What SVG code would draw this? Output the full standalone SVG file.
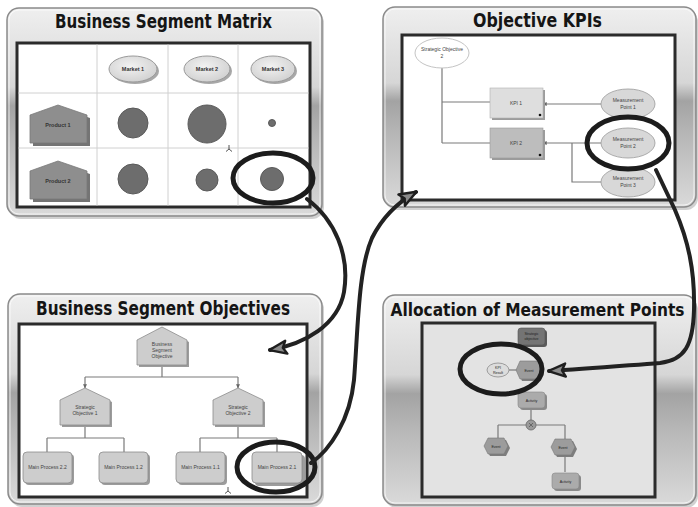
<svg xmlns="http://www.w3.org/2000/svg" width="698" height="507" viewBox="0 0 698 507">
<defs>
<linearGradient id="fg" x1="0" y1="0" x2="0" y2="1">
<stop offset="0" stop-color="#efefef"/>
<stop offset="0.38" stop-color="#d6d6d6"/>
<stop offset="0.47" stop-color="#a3a3a3"/>
<stop offset="0.65" stop-color="#b8b8b8"/>
<stop offset="1" stop-color="#dadada"/>
</linearGradient>
<radialGradient id="eg" cx="0.45" cy="0.4" r="0.6">
<stop offset="0" stop-color="#f2f2f2"/>
<stop offset="1" stop-color="#d2d2d2"/>
</radialGradient>
<marker id="big" viewBox="0 0 20 16" refX="18" refY="8" markerWidth="20" markerHeight="16" markerUnits="userSpaceOnUse" orient="auto">
<path d="M1.5,1.5 L18.5,8 L1.5,14.5 L5,8 Z" fill="#8a8a8a" stroke="#1e1e1e" stroke-width="2.4" stroke-linejoin="round"/>
</marker>
<marker id="sm" viewBox="0 0 6 6" refX="5.5" refY="3" markerWidth="4" markerHeight="4" markerUnits="userSpaceOnUse" orient="auto">
<path d="M0,0 L6,3 L0,6 Z" fill="#666"/>
</marker>
</defs>
<style>
.frame{fill:url(#fg);stroke:#8a8a8a;stroke-width:1.5}
.hl{fill:none;stroke:#ffffff;stroke-opacity:.7;stroke-width:1}
.shadow{fill:#9a9a9a;opacity:.45}
.inner{fill:#ffffff;stroke:#2b2b2b;stroke-width:3}
.title{font-family:"DejaVu Sans Condensed","DejaVu Sans",sans-serif;font-weight:bold;font-size:20px;fill:#151515}
.grid{stroke:#d0d0d0;stroke-width:1;fill:none}
.lbl{font-family:"Liberation Sans",Arial,sans-serif;font-size:5px;fill:#444;text-anchor:middle}
.blbl{font-family:"Liberation Sans",Arial,sans-serif;font-size:5.5px;font-weight:bold;fill:#333;text-anchor:middle}
.ln{stroke:#7a7a7a;stroke-width:1.2;fill:none}
.mag{fill:none;stroke:#1c1c1c;stroke-width:5}
.conn{fill:none;stroke:#222;stroke-width:4;stroke-linecap:round}
.bubble{fill:#6d6d6d;stroke:#5a5a5a;stroke-width:1}
.market{fill:url(#eg);stroke:#9a9a9a;stroke-width:1}
.mshadow{fill:#a8a8a8}
.prod{fill:#8e8e8e;stroke:#7a7a7a;stroke-width:.8}
.prodsh{fill:#747474}
.box{fill:#cdcdcd;stroke:#8c8c8c;stroke-width:.8}
.boxsh{fill:#9c9c9c}
.mp{fill:#d8d8d8;stroke:#999;stroke-width:.8}
</style>

<!-- Panel frames -->
<g id="panel-matrix">
<rect class="shadow" x="9" y="11" width="315" height="208" rx="12"/>
<rect class="frame" x="7" y="8" width="315" height="208" rx="12"/>
<rect class="hl" x="9" y="10" width="311" height="204" rx="10"/>
<text class="title" x="163.5" y="28" text-anchor="middle" textLength="217" lengthAdjust="spacingAndGlyphs">Business Segment Matrix</text>
<rect class="inner" x="17" y="43" width="293" height="164"/>
<path class="grid" d="M97,44.5V205.5M168,44.5V205.5M238,44.5V205.5M18.5,93H308.5M18.5,148H308.5"/>
</g>

<g id="panel-kpis">
<rect class="shadow" x="385" y="10" width="313" height="200" rx="12"/>
<rect class="frame" x="383" y="7" width="313" height="200" rx="12"/>
<rect class="hl" x="385" y="9" width="309" height="196" rx="10"/>
<text class="title" x="537.5" y="27" text-anchor="middle" textLength="129" lengthAdjust="spacingAndGlyphs">Objective KPIs</text>
<rect class="inner" x="402" y="35" width="273" height="165"/>
</g>

<g id="panel-objectives">
<rect class="shadow" x="10" y="297" width="314" height="210" rx="12"/>
<rect class="frame" x="8" y="294" width="314" height="210" rx="12"/>
<rect class="hl" x="10" y="296" width="310" height="206" rx="10"/>
<text class="title" x="163" y="315" text-anchor="middle" textLength="254" lengthAdjust="spacingAndGlyphs">Business Segment Objectives</text>
<rect class="inner" x="19" y="324" width="288" height="173"/>
</g>

<g id="panel-allocation">
<rect class="shadow" x="385" y="298" width="313" height="210" rx="12"/>
<rect class="frame" x="383" y="295" width="313" height="210" rx="12"/>
<rect class="hl" x="385" y="297" width="309" height="206" rx="10"/>
<text class="title" x="537.5" y="316" text-anchor="middle" textLength="294" lengthAdjust="spacingAndGlyphs" style="font-size:17.5px">Allocation of Measurement Points</text>
<rect class="inner" x="422" y="323" width="233" height="174" style="fill:#e3e3e3"/>
</g>

<!-- Matrix nodes -->
<g id="market-1">
<ellipse class="mshadow" cx="135" cy="71" rx="24" ry="13"/>
<ellipse class="market" cx="133" cy="69" rx="24" ry="13"/>
<text class="blbl" x="133" y="71">Market 1</text>
</g>
<g id="market-2">
<ellipse class="mshadow" cx="209" cy="71" rx="23" ry="13"/>
<ellipse class="market" cx="207" cy="69" rx="23" ry="13"/>
<text class="blbl" x="207" y="71">Market 2</text>
</g>
<g id="market-3">
<ellipse class="mshadow" cx="275" cy="71" rx="22" ry="13"/>
<ellipse class="market" cx="273" cy="69" rx="22" ry="13"/>
<text class="blbl" x="273" y="71">Market 3</text>
</g>
<g id="product-1">
<polygon class="prodsh" points="33,118 61,108 90,118 90,146 33,146"/>
<polygon class="prod" points="30,115 58,105 87,115 87,143 30,143"/>
<text class="blbl" x="58" y="127">Product 1</text>
</g>
<g id="product-2">
<polygon class="prodsh" points="33,174 61,164 90,174 90,202 33,202"/>
<polygon class="prod" points="30,171 58,161 87,171 87,199 30,199"/>
<text class="blbl" x="58" y="183">Product 2</text>
</g>
<g id="bubbles">
<circle class="bubble" cx="133" cy="123" r="15"/>
<circle class="bubble" cx="207" cy="124" r="19"/>
<circle class="bubble" cx="272" cy="123" r="3.5"/>
<circle class="bubble" cx="133" cy="179" r="15"/>
<circle class="bubble" cx="207" cy="180" r="11"/>
<circle class="bubble" cx="272" cy="179" r="11.5"/>
<path d="M229,145V149M229,149L226,151.5M229,149L232,151.5" stroke="#555" stroke-width="1" fill="none"/>
</g>

<!-- KPI nodes -->
<g id="kpi-edges">
<path class="ln" d="M442,68V143M442,102H490M442,143H490"/>
<path class="ln" d="M601,104H543" marker-end="url(#sm)"/>
<path class="ln" d="M601,143H543" marker-end="url(#sm)"/>
<path class="ln" d="M572,143V182H601"/>
</g>
<g id="strategic-objective-2-kpi">
<ellipse cx="442" cy="53" rx="27" ry="15" fill="#ffffff" stroke="#c4c4c4" stroke-width="1"/>
<text class="lbl" x="442" y="51">Strategic Objective</text>
<text class="lbl" x="442" y="58">2</text>
</g>
<g id="kpi-1">
<rect class="boxsh" x="492" y="90" width="53" height="30"/>
<rect x="490" y="88" width="53" height="30" fill="#dedede" stroke="#b0b0b0" stroke-width=".6"/>
<text class="lbl" x="516" y="105">KPI 1</text>
<circle cx="540" cy="115" r="1.3" fill="#111"/>
</g>
<g id="kpi-2">
<rect class="boxsh" x="492" y="130" width="53" height="30"/>
<rect x="490" y="128" width="53" height="30" fill="#bdbdbd" stroke="#9a9a9a" stroke-width=".6"/>
<text class="lbl" x="516" y="145">KPI 2</text>
<circle cx="540" cy="155" r="1.3" fill="#111"/>
</g>
<g id="measurement-point-1">
<ellipse class="mp" cx="628" cy="104" rx="27" ry="15"/>
<text class="lbl" x="628" y="102">Measurement</text>
<text class="lbl" x="628" y="109">Point 1</text>
</g>
<g id="measurement-point-2">
<ellipse class="mp" cx="628" cy="143" rx="27" ry="15"/>
<text class="lbl" x="628" y="141">Measurement</text>
<text class="lbl" x="628" y="148">Point 2</text>
</g>
<g id="measurement-point-3">
<ellipse class="mp" cx="628" cy="182" rx="27" ry="15"/>
<text class="lbl" x="628" y="180">Measurement</text>
<text class="lbl" x="628" y="187">Point 3</text>
</g>

<!-- Objectives nodes -->
<g id="objective-edges">
<path class="ln" d="M162,365V377M85,377H238"/>
<path class="ln" d="M85,377V388" marker-end="url(#sm)"/>
<path class="ln" d="M238,377V388" marker-end="url(#sm)"/>
<path class="ln" d="M85,425V438M47,438H124M47,438V452M124,438V452"/>
<path class="ln" d="M238,425V438M200,438H277M200,438V452M277,438V452"/>
</g>
<g id="business-segment-objective">
<polygon class="boxsh" points="139,342 164,329 189,342 189,367 139,367"/>
<polygon class="box" points="137,340 162,327 187,340 187,365 137,365"/>
<text class="lbl" x="162" y="346">Business</text>
<text class="lbl" x="162" y="352">Segment</text>
<text class="lbl" x="162" y="358">Objective</text>
</g>
<g id="strategic-objective-1">
<polygon class="boxsh" points="62,402 87,390 112,402 112,427 62,427"/>
<polygon class="box" points="60,400 85,388 110,400 110,425 60,425"/>
<text class="lbl" x="85" y="409">Strategic</text>
<text class="lbl" x="85" y="415">Objective 1</text>
</g>
<g id="strategic-objective-2">
<polygon class="boxsh" points="215,402 240,390 265,402 265,427 215,427"/>
<polygon class="box" points="213,400 238,388 263,400 263,425 213,425"/>
<text class="lbl" x="238" y="409">Strategic</text>
<text class="lbl" x="238" y="415">Objective 2</text>
</g>
<g id="main-process-2-2">
<rect class="boxsh" x="25" y="454" width="49" height="31" rx="4"/>
<rect class="box" x="23" y="452" width="49" height="31" rx="4"/>
<text class="lbl" x="47.5" y="469">Main Process 2.2</text>
</g>
<g id="main-process-1-2">
<rect class="boxsh" x="101" y="454" width="49" height="31" rx="4"/>
<rect class="box" x="99" y="452" width="49" height="31" rx="4"/>
<text class="lbl" x="123.5" y="469">Main Process 1.2</text>
</g>
<g id="main-process-1-1">
<rect class="boxsh" x="178" y="454" width="49" height="31" rx="4"/>
<rect class="box" x="176" y="452" width="49" height="31" rx="4"/>
<text class="lbl" x="200.5" y="469">Main Process 1.1</text>
<path d="M228,487V491M228,491L225,493.5M228,491L231,493.5" stroke="#555" stroke-width="1" fill="none"/>
</g>
<g id="main-process-2-1">
<rect class="boxsh" x="255" y="455" width="50" height="31" rx="4"/>
<rect class="box" x="252" y="452" width="50" height="31" rx="4"/>
<text class="lbl" x="277" y="469">Main Process 2.1</text>
</g>

<!-- Allocation nodes -->
<g id="allocation-edges">
<path class="ln" d="M509,370H517"/>
<path class="ln" d="M531,408V420M498,425H526M536,425H565M498,425V438M565,425V439M565,456V472"/>
</g>
<g id="strategic-objective-alloc">
<rect x="520" y="330" width="27" height="17" rx="3" fill="#5a5a5a"/>
<rect x="518" y="328" width="27" height="17" rx="3" fill="#747474" stroke="#555" stroke-width=".6"/>
<text class="lbl" x="531.5" y="335" style="font-size:3.6px;fill:#222">Strategic</text>
<text class="lbl" x="531.5" y="340" style="font-size:3.6px;fill:#222">objective</text>
</g>
<g id="kpi-result">
<ellipse cx="498" cy="370" rx="11" ry="7" fill="#dcdcdc" stroke="#8a8a8a" stroke-width=".8"/>
<text class="lbl" x="498" y="369" style="font-size:3.6px;fill:#222">KPI</text>
<text class="lbl" x="498" y="373.5" style="font-size:3.6px;fill:#222">Result</text>
</g>
<g id="event-top">
<polygon points="522,363 540,363 544,372 540,381 522,381 518,372" fill="#7e7e7e"/>
<polygon points="520,361 538,361 542,370 538,379 520,379 516,370" fill="#9c9c9c" stroke="#777" stroke-width=".6"/>
<text class="lbl" x="529" y="371.5" style="font-size:3.6px;fill:#222">Event</text>
</g>
<g id="activity-1">
<rect x="520" y="394" width="27" height="16" rx="3" fill="#8a8a8a"/>
<rect x="518" y="392" width="27" height="16" rx="3" fill="#ababab" stroke="#888" stroke-width=".6"/>
<text class="lbl" x="531.5" y="401.5" style="font-size:3.6px;fill:#222">Activity</text>
</g>
<g id="xor">
<circle cx="531" cy="425" r="5" fill="#9a9a9a" stroke="#666" stroke-width=".8"/>
<path d="M529,423L533,427M533,423L529,427" stroke="#444" stroke-width=".6"/>
</g>
<g id="event-left">
<polygon points="490,440 506,440 510,448 506,456 490,456 486,448" fill="#7e7e7e"/>
<polygon points="488,438 504,438 508,446 504,454 488,454 484,446" fill="#9c9c9c" stroke="#777" stroke-width=".6"/>
<text class="lbl" x="496" y="447.5" style="font-size:3.6px;fill:#222">Event</text>
</g>
<g id="event-right">
<polygon points="557,441 573,441 577,449 573,457 557,457 553,449" fill="#7e7e7e"/>
<polygon points="555,439 571,439 575,447 571,455 555,455 551,447" fill="#9c9c9c" stroke="#777" stroke-width=".6"/>
<text class="lbl" x="563" y="448.5" style="font-size:3.6px;fill:#222">Event</text>
</g>
<g id="activity-2">
<rect x="554" y="475" width="27" height="16" rx="3" fill="#8a8a8a"/>
<rect x="552" y="473" width="27" height="16" rx="3" fill="#ababab" stroke="#888" stroke-width=".6"/>
<text class="lbl" x="565.5" y="482.5" style="font-size:3.6px;fill:#222">Activity</text>
</g>

<!-- Magnifier highlights and big connectors -->
<g id="connectors">
<ellipse class="mag" cx="273" cy="178" rx="40" ry="25"/>
<ellipse class="mag" cx="628" cy="143" rx="41" ry="26"/>
<ellipse class="mag" cx="276" cy="467" rx="39" ry="25"/>
<ellipse class="mag" cx="501" cy="369" rx="41" ry="25"/>
<path class="conn" d="M307,199 C335,220 350,255 344,292 C338,325 305,344 270,350" marker-end="url(#big)"/>
<path class="conn" d="M311,463 C330,450 350,420 354,380 C358,330 358,270 372,238 C382,218 395,204 416,192" marker-end="url(#big)"/>
<path class="conn" d="M656,170 L675,210 C688,240 695,270 694,310 C693,345 685,360 660,363 C620,366 585,369 549,371" marker-end="url(#big)"/>
</g>
</svg>
